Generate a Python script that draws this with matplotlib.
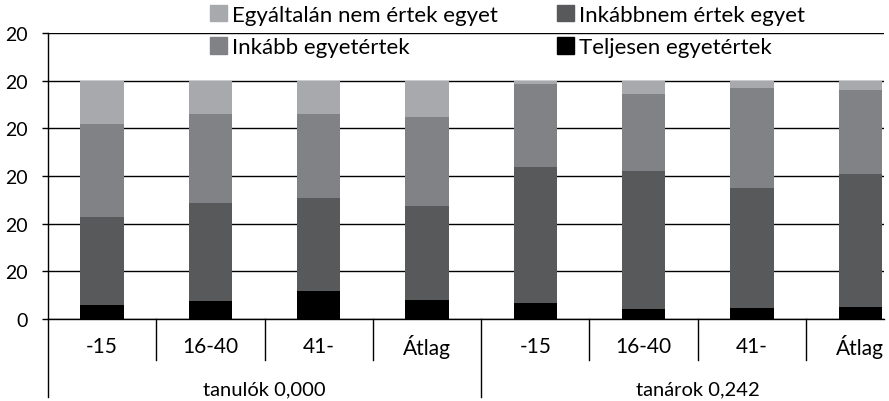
import numpy as np
import matplotlib
matplotlib.use("Agg")
import matplotlib.pyplot as plt
from matplotlib.patches import Patch

plt.rcParams['font.family'] = ['Lato', 'DejaVu Sans']

# data (percent of answers)
categories = ['-15', '16-40', '41-', 'Átlag', '-15', '16-40', '41-', 'Átlag']
groups = ['tanulók 0,000', 'tanárok 0,242']
group_size = 4

teljesen = [6.0, 7.7, 11.9, 8.1, 6.8, 4.3, 4.7, 5.2]
inkabb_egyet = [38.9, 37.3, 35.2, 37.3, 34.8, 32.2, 41.9, 35.2]
inkabb_nem = [36.9, 41.0, 38.9, 39.4, 57.0, 57.9, 50.3, 55.7]
egyaltalan_nem = [18.2, 14.0, 14.0, 15.2, 1.4, 5.6, 3.1, 3.9]

yticks = [0, 20, 40, 60, 80, 100, 120]
ytick_labels = ['0', '20', '20', '20', '20', '20', '20']

c_black = '#000000'
c_dark = '#58595b'
c_mid = '#808285'
c_light = '#a7a9ac'

fig = plt.figure(figsize=(8.89, 4.02), dpi=100)
ax = fig.add_axes([48 / 889, 1 - 320 / 402, 836 / 889, 286 / 402])

x = np.arange(len(categories))
w = 0.4
bottom = np.zeros(len(categories))
for vals, col in [(teljesen, c_black), (inkabb_nem, c_dark),
                  (inkabb_egyet, c_mid), (egyaltalan_nem, c_light)]:
    ax.bar(x, vals, w, bottom=bottom, color=col, zorder=3)
    bottom += np.array(vals)

ax.set_ylim(0, 120)
ax.set_xlim(-0.5, 7.22)
ax.set_yticks(yticks)
ax.set_yticklabels(ytick_labels, fontsize=14)
ax.set_xticks([])
ax.yaxis.grid(True, color='black', linewidth=1.0, zorder=0)
ax.tick_params(axis='y', length=4.5, width=1.0, color='black', pad=10)
for s in ['top', 'right']:
    ax.spines[s].set_visible(False)
ax.spines['left'].set_linewidth(1.0)
ax.spines['bottom'].set_linewidth(1.0)

# category labels and separators below the axis
trans = ax.get_xaxis_transform()
for i, lab in enumerate(categories):
    ax.text(x[i], -0.094, lab, transform=trans, ha='center', va='center', fontsize=15)
for i in range(1, len(categories)):
    depth = -0.273 if i % group_size == 0 else -0.143
    ax.plot([i - 0.5, i - 0.5], [0, depth], transform=trans, color='black',
            linewidth=1.0, clip_on=False)
ax.plot([-0.5, -0.5], [0, -0.273], transform=trans, color='black',
        linewidth=1.0, clip_on=False)
for g, name in enumerate(groups):
    mid = g * group_size + (group_size - 1) / 2
    ax.text(mid, -0.245, name, transform=trans, ha='center', va='center', fontsize=14.5)

leg_kw = dict(frameon=False, fontsize=16, handlelength=0.75, handleheight=0.75,
              handletextpad=0.25, labelspacing=0.55, borderpad=0, borderaxespad=0,
              loc='upper left')
leg1 = fig.legend(handles=[Patch(color=c_light, label='Egyáltalán nem értek egyet'),
                           Patch(color=c_mid, label='Inkább egyetértek')],
                  bbox_to_anchor=(210 / 889, 1 - 6 / 402), **leg_kw)
leg2 = fig.legend(handles=[Patch(color=c_dark, label='Inkábbnem értek egyet'),
                           Patch(color=c_black, label='Teljesen egyetértek')],
                  bbox_to_anchor=(557 / 889, 1 - 6 / 402), **leg_kw)

fig.savefig('out.png', dpi=100)
